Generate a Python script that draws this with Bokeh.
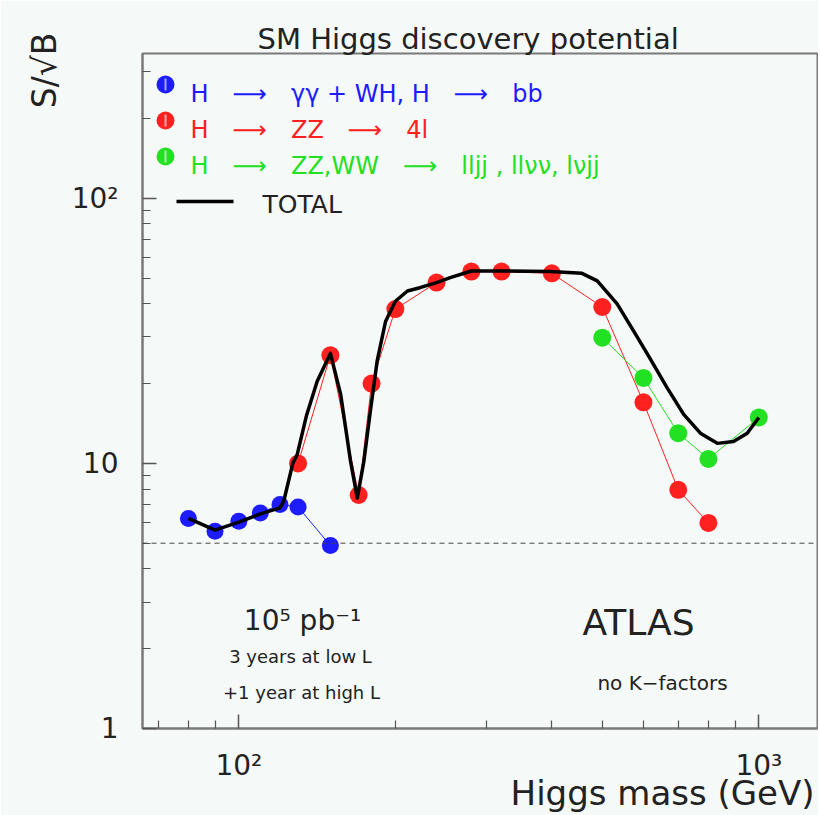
import math
from bokeh.plotting import figure
from bokeh.models import FixedTicker, Label, Span, Range1d, Title
from bokeh.embed import file_html
from bokeh.resources import INLINE

# ---------------- data ----------------
mass_gg = [80, 90, 100, 110, 120, 130, 150]
sig_gg = [6.2, 5.55, 6.05, 6.5, 7.0, 6.85, 4.9]

mass_4l = [130, 150, 170, 180, 200, 240, 280, 320, 400, 500, 600, 700, 800]
sig_4l = [10.0, 25.6, 7.6, 20.0, 38.2, 48.1, 52.9, 52.9, 52.1, 38.9, 17.0, 7.95, 5.96]

mass_vv = [500, 600, 700, 800, 1000]
sig_vv = [29.8, 21.0, 13.0, 10.4, 14.9]

mass_total = [80, 90, 100, 110, 120, 122, 127, 129.5, 135, 141.5, 150, 157, 164, 169,
              174, 179, 184.5, 191.5, 200, 211, 223, 240, 255, 280, 318, 397, 457,
              489, 534, 575, 614, 666, 717, 772, 832, 894, 950, 1000]
sig_total = [6.2, 5.6, 6.0, 6.45, 6.8, 7.2, 10.0, 10.8, 15.2, 20.4, 26.0, 18.2, 10.2, 7.4,
             10.2, 15.7, 24.3, 34.3, 40.9, 44.7, 46.0, 48.1, 50.2, 53.2, 53.2, 53.0, 52.1,
             48.8, 40.0, 31.5, 25.4, 19.3, 15.3, 13.0, 11.9, 12.1, 13.0, 14.9]

discovery_level = 5

x_major = [100, 1000]
x_minor = [70, 80, 90, 200, 300, 400, 500, 600, 700, 800, 900]
x_labels = {100: "10²", 1000: "10³"}
y_major = [1, 10, 100]
y_minor = [2, 3, 4, 5, 6, 7, 8, 9, 20, 30, 40, 50, 60, 70, 80, 90, 200, 300]
y_labels = {1: "1", 10: "10", 100: "10²"}

legend_texts = [
    "H\u2003\u27f6\u2003γγ + WH, H\u2003\u27f6\u2003bb",
    "H\u2003\u27f6\u2003ZZ\u2003\u27f6\u20034l",
    "H\u2003\u27f6\u2003ZZ,WW\u2003\u27f6\u2003lljj , llνν, lνjj",
]
legend_colors = ["#1c1cff", "#ff2020", "#22e022"]

# ---------------- layout / style ----------------
FONT = "DejaVu Sans"
BG = "#f5f9f7"
TXT = "#222222"
W, H = 818, 815
BL, BR, BT, BB = 142, 1, 53, 87
FL, FR, FT, FB = BL, W - BR, BT, H - BB          # frame edges in canvas pixels
X0 = 65.28
X1 = 10 ** (math.log10(X0) + (FR - FL) / 520.0)  # 520 px per decade
Y0 = 1
Y1 = 10 ** ((FB - FT) / 265.1)                    # 265 px per decade


def fx(px):
    return 10 ** (math.log10(X0) + (px - FL) / (FR - FL) * (math.log10(X1) - math.log10(X0)))


def fy(py):
    return 10 ** (math.log10(Y0) + (FB - py) / (FB - FT) * (math.log10(Y1) - math.log10(Y0)))


p = figure(width=W, height=H, x_axis_type="log", y_axis_type="log",
           x_range=Range1d(X0, X1), y_range=Range1d(Y0, Y1),
           output_backend="svg", toolbar_location=None,
           min_border_left=BL, min_border_right=BR, min_border_top=BT, min_border_bottom=BB)

p.background_fill_color = BG
p.border_fill_color = BG
p.outline_line_color = "#7a7a7a"
p.outline_line_width = 2
p.grid.visible = False

# main title
p.title.text = "SM Higgs discovery potential"
p.title.text_font = FONT
p.title.text_font_size = "29px"
p.title.text_font_style = "normal"
p.title.text_color = TXT
p.title.align = "left"
p.title.offset = 115
p.title.standoff = -4
p.title.vertical_align = "bottom"

p.xaxis.ticker = FixedTicker(ticks=x_major, minor_ticks=x_minor)
p.yaxis.ticker = FixedTicker(ticks=y_major, minor_ticks=y_minor)
p.xaxis.major_label_overrides = x_labels
p.yaxis.major_label_overrides = y_labels
for ax in (p.xaxis, p.yaxis):
    ax.axis_line_color = "#7a7a7a"
    ax.axis_line_width = 2
    ax.major_tick_in = 14
    ax.major_tick_out = 0
    ax.minor_tick_in = 8
    ax.minor_tick_out = 0
    ax.major_tick_line_color = "#555555"
    ax.minor_tick_line_color = "#555555"
    ax.major_tick_line_width = 1.5
    ax.minor_tick_line_width = 1.2
    ax.major_label_text_font = FONT
    ax.major_label_text_font_size = "28px"
    ax.major_label_text_color = TXT
p.xaxis.major_label_standoff = 20
p.yaxis.major_label_standoff = 24

# axis titles as side-panel titles
p.add_layout(Title(text="S/√B", align="right", offset=-21, standoff=10,
                   vertical_align="bottom", text_font=FONT, text_font_size="33px",
                   text_font_style="normal", text_color=TXT), "left")
p.add_layout(Title(text="Higgs mass (GeV)", align="right", offset=3, standoff=-23,
                   vertical_align="top", text_font=FONT, text_font_size="34px",
                   text_font_style="normal", text_color=TXT), "below")

# dashed 5 sigma line
p.add_layout(Span(location=discovery_level, dimension="width", line_color="#444444",
                  line_width=1, line_dash="5 4"))

# thin connecting lines
p.line(mass_4l, sig_4l, line_color=legend_colors[1], line_width=1)
p.line(mass_vv, sig_vv, line_color=legend_colors[2], line_width=1)
p.line(mass_gg, sig_gg, line_color=legend_colors[0], line_width=1)

# markers
p.scatter(mass_gg, sig_gg, marker="circle", size=17, fill_color=legend_colors[0], line_color=None)
p.scatter(mass_4l, sig_4l, marker="circle", size=18, fill_color=legend_colors[1], line_color=None)
p.scatter(mass_vv, sig_vv, marker="circle", size=18, fill_color=legend_colors[2], line_color=None)

# total curve
p.line(mass_total, sig_total, line_color="black", line_width=3.5, line_join="round")

# ---------------- legend (drawn by hand) ----------------
row_y = [84, 120, 156]
for txt, col, ry in zip(legend_texts, legend_colors, row_y):
    p.scatter([fx(165)], [fy(ry)], marker="circle", size=18, fill_color=col, line_color=None)
    p.scatter([fx(165)], [fy(ry)], marker="dash", angle=math.pi / 2, size=12,
              line_color="white", line_alpha=0.6, line_width=2)
    p.add_layout(Label(x=190 - FL, y=FB - (ry + 9), x_units="screen", y_units="screen",
                       text=txt, text_font=FONT, text_font_size="24px", text_color=col,
                       text_baseline="alphabetic", text_align="left"))

p.line([fx(176), fx(233)], [fy(201), fy(201)], line_color="black", line_width=3.5)
p.add_layout(Label(x=262 - FL, y=FB - 204, x_units="screen", y_units="screen",
                   text="TOTAL", text_font=FONT, text_font_size="25px", text_color=TXT,
                   text_baseline="alphabetic"))


# ---------------- texts inside the frame ----------------
def add_text(t, px, py, size, align="center"):
    p.add_layout(Label(x=px - FL, y=FB - py, x_units="screen", y_units="screen", text=t,
                       text_font=FONT, text_font_size=size, text_color=TXT,
                       text_align=align, text_baseline="alphabetic"))


add_text("10⁵ pb⁻¹", 302, 620, "28px")
add_text("3 years at low L", 300, 656, "18px")
add_text("+1 year at high L", 301, 692, "18px")
add_text("ATLAS", 638, 622, "36px")
add_text("no K−factors", 662, 682, "20px")

open("out.html", "w").write(file_html(p, INLINE, title="SM Higgs discovery potential"))
